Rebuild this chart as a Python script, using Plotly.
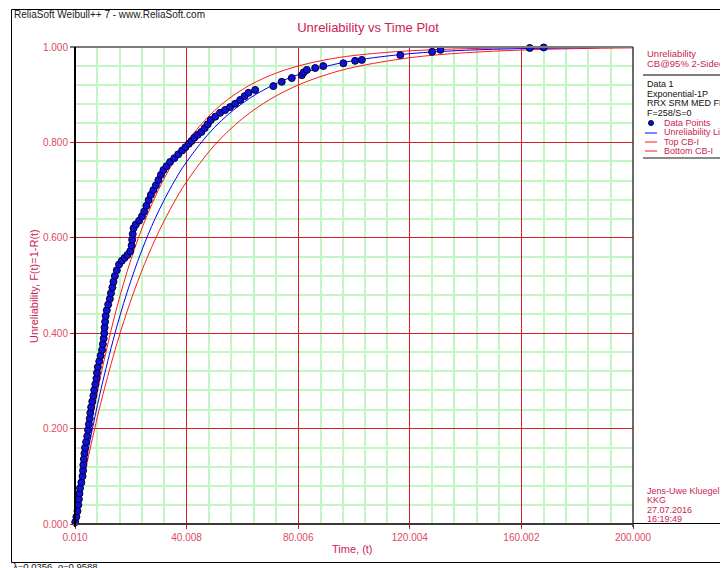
import plotly.graph_objects as go

# ---- data ----
pt_time = [0.1, 0.5, 0.9, 1.2, 1.4, 1.6, 1.8, 2.3, 2.7, 2.9, 3.0, 3.2, 3.4, 3.6, 4.0, 4.4,
           4.7, 5.0, 5.3, 5.5, 5.8, 6.2, 6.6, 6.9, 7.3, 7.7, 7.9, 8.2, 8.7, 9.2, 9.7, 10.0,
           10.3, 10.5, 10.6, 10.8, 11.0, 11.4, 11.9, 12.5, 12.9, 13.4, 13.8, 14.3, 15.0, 15.8,
           16.8, 17.8, 18.8, 19.8, 20.3, 20.5, 20.7, 21.0, 21.8, 23.0, 24.0, 24.8, 25.6, 26.4,
           27.2, 28.1, 29.0, 29.9, 30.8, 31.7, 32.8, 34.1, 35.6, 37.0, 38.4, 39.6, 40.8, 41.8,
           42.8, 44.0, 45.3, 46.5, 47.6, 48.7, 50.3, 52.0, 53.8, 55.6, 57.4, 59.2, 60.8, 62.2,
           64.6, 71.1, 74.1, 77.7, 81.3, 82.0, 83.1, 86.1, 89.0, 96.2, 100.4, 102.8, 116.6,
           128.0, 131.0, 163.0, 168.0]
pt_unrel = [0.004, 0.015, 0.027, 0.040, 0.052, 0.064, 0.075, 0.087, 0.100, 0.112, 0.124, 0.136,
            0.148, 0.160, 0.172, 0.184, 0.197, 0.209, 0.221, 0.233, 0.245, 0.257, 0.269, 0.281,
            0.293, 0.305, 0.317, 0.329, 0.341, 0.353, 0.365, 0.377, 0.389, 0.400, 0.412, 0.424,
            0.436, 0.448, 0.460, 0.472, 0.484, 0.496, 0.508, 0.520, 0.532, 0.544, 0.552, 0.558,
            0.564, 0.572, 0.584, 0.596, 0.608, 0.620, 0.628, 0.636, 0.645, 0.655, 0.667, 0.679,
            0.690, 0.700, 0.710, 0.721, 0.732, 0.742, 0.750, 0.759, 0.767, 0.775, 0.783, 0.790,
            0.797, 0.803, 0.810, 0.816, 0.822, 0.830, 0.838, 0.847, 0.854, 0.862, 0.868, 0.874,
            0.881, 0.889, 0.897, 0.904, 0.910, 0.918, 0.927, 0.935, 0.941, 0.947, 0.952, 0.956,
            0.960, 0.966, 0.971, 0.973, 0.983, 0.990, 0.994, 0.998, 0.999]

curve_time = [0, 2.5, 5, 7.5, 10, 15, 20, 25, 30, 35, 40, 50, 60, 70, 80, 90, 100, 120, 140,
              160, 180, 200]
unrel_line = [0, 0.0852, 0.1631, 0.2343, 0.2995, 0.4137, 0.5093, 0.5893, 0.6563, 0.7123,
              0.7592, 0.8314, 0.8819, 0.9173, 0.9420, 0.9594, 0.9716, 0.9860, 0.9932, 0.9966,
              0.9984, 0.9992]
top_cb = [0, 0.0959, 0.1825, 0.2609, 0.3317, 0.4537, 0.5534, 0.6349, 0.7015, 0.7560, 0.8005,
          0.8667, 0.9109, 0.9405, 0.9602, 0.9734, 0.9822, 0.9921, 0.9965, 0.9984, 0.9993, 0.9997]
bottom_cb = [0, 0.0760, 0.1461, 0.2110, 0.2709, 0.3775, 0.4684, 0.5462, 0.6125, 0.6691,
             0.7175, 0.7940, 0.8498, 0.8905, 0.9202, 0.9418, 0.9576, 0.9775, 0.9880, 0.9936,
             0.9966, 0.9982]

x_tickvals = [0.010, 40.008, 80.006, 120.004, 160.002, 200.000]
x_ticktext = ["0.010", "40.008", "80.006", "120.004", "160.002", "200.000"]
y_tickvals = [0.0, 0.2, 0.4, 0.6, 0.8, 1.0]
y_ticktext = ["0.000", "0.200", "0.400", "0.600", "0.800", "1.000"]

legend_header = ["Unreliability", "CB@95% 2-Sided [T]"]
legend_info = ["Data 1", "Exponential-1P", "RRX SRM MED FM", "F=258/S=0"]
legend_items = ["Data Points", "Unreliability Line", "Top CB-I", "Bottom CB-I"]
user_info = ["Jens-Uwe Kluegel", "KKG", "27.07.2016", "16:19:49"]

# ---- geometry (page has an 8px body margin, so the figure is offset by 8px) ----
OFF = 8
W, H = 728 - OFF, 568 - OFF
L, R, T, B = 75 - OFF, 633 - OFF, 47 - OFF, 524 - OFF
FONT = "Liberation Sans, Arial, sans-serif"
TXT = "#cc2452"
TICK = "#dd4a62"
RED = "#ff1a1a"
BLUE = "#0000ff"
GRID_MAJ = "#d42020"
GRID_MIN = "#c4f6c4"


def px(x):
    """reference page pixel x -> paper x"""
    return (x - OFF - L) / (R - L)


def py(y):
    """reference page pixel y -> paper y"""
    return (B - (y - OFF)) / (B - T)


x_minor = [0.01 + 7.9996 * k for k in range(26) if k % 5 != 0]
y_minor = [0.04 * k for k in range(26) if k % 5 != 0]

fig = go.Figure()
fig.add_trace(go.Scatter(x=curve_time, y=bottom_cb, mode="lines", line=dict(color=RED, width=1, shape="spline"),
                         showlegend=False, hoverinfo="skip"))
fig.add_trace(go.Scatter(x=curve_time, y=top_cb, mode="lines", line=dict(color=RED, width=1, shape="spline"),
                         showlegend=False, hoverinfo="skip"))
fig.add_trace(go.Scatter(x=curve_time, y=unrel_line, mode="lines", line=dict(color=BLUE, width=1, shape="spline"),
                         showlegend=False, hoverinfo="skip"))
fig.add_trace(go.Scatter(x=pt_time, y=pt_unrel, mode="markers",
                         marker=dict(size=7, color="#1010d8", line=dict(color="#00003a", width=1)),
                         showlegend=False, cliponaxis=False))

fig.update_xaxes(range=[0.01, 200], tickmode="array", tickvals=x_tickvals, ticktext=x_ticktext,
                 showgrid=True, gridcolor=GRID_MAJ, gridwidth=1, zeroline=False,
                 ticks="outside", ticklen=4, tickcolor=GRID_MAJ,
                 tickfont=dict(family=FONT, size=10, color=TICK),
                 minor=dict(tickmode="array", tickvals=x_minor, showgrid=True, gridcolor=GRID_MIN,
                            gridwidth=1.5, ticks=""),
                 showline=False)
fig.update_yaxes(range=[0, 1], tickmode="array", tickvals=y_tickvals, ticktext=y_ticktext,
                 showgrid=True, gridcolor=GRID_MAJ, gridwidth=1, zeroline=False,
                 ticks="outside", ticklen=4, tickcolor=GRID_MAJ,
                 tickfont=dict(family=FONT, size=10, color=TICK),
                 minor=dict(tickmode="array", tickvals=y_minor, showgrid=True, gridcolor=GRID_MIN,
                            gridwidth=1.5, ticks=""),
                 showline=False)

shapes = []


def hline(y, x0, x1, color="black", width=1):
    shapes.append(dict(type="line", xref="paper", yref="paper", x0=px(x0), x1=px(x1), y0=py(y), y1=py(y),
                       line=dict(color=color, width=width), layer="above"))


def vline(x, y0, y1, color="black", width=1):
    shapes.append(dict(type="line", xref="paper", yref="paper", x0=px(x), x1=px(x), y0=py(y0), y1=py(y1),
                       line=dict(color=color, width=width), layer="above"))


# outer window frame
vline(11.5, 9.5, 562.5)
hline(9.5, 11.5, 728)
hline(562.5, 11.5, 728)
# plot frame
hline(47, 70, 633, color="#7a7a7a", width=2)
hline(524, 75, 633, color="#3a3a3a", width=2)
vline(75, 47, 527, color="black", width=2)
vline(633, 47, 527, color="#3a3a3a", width=1.5)
# legend panel lines
hline(75, 643, 728, color="black", width=1)
hline(158, 643, 728, color="#8a8a8a", width=2)
hline(523.5, 633, 728, color="black", width=1)
# legend symbols
hline(133, 645, 657, color=BLUE, width=1)
hline(142, 645, 657, color=RED, width=1)
hline(151, 645, 657, color=RED, width=1)
shapes.append(dict(type="circle", xref="paper", yref="paper", x0=px(648.5), x1=px(653.5), y0=py(120.5),
                   y1=py(125.5), fillcolor="#1010d8", line=dict(color="#00003a", width=1), layer="above"))

annotations = []


def text(x, y, s, color=TXT, size=9, anchor="left", angle=0):
    annotations.append(dict(x=px(x), y=py(y), xref="paper", yref="paper", text=s, showarrow=False,
                            xanchor=anchor, yanchor="middle", textangle=angle, borderpad=0,
                            font=dict(family=FONT, size=size, color=color)))


text(13, 15, "ReliaSoft Weibull++ 7 - www.ReliaSoft.com", color="#202020", size=10)
text(352, 549, "Time, (t)", size=11, anchor="center")
text(34, 286, "Unreliability, F(t)=1-R(t)", size=11, anchor="center", angle=-90)
text(646, 53, legend_header[0], size=9.5)
text(646, 63, legend_header[1], size=9.5)
for i, s in enumerate(legend_info):
    text(646, 84 + i * 9.5, s, color="#101010", size=9)
for i, s in enumerate(legend_items):
    text(663, 123 + i * 9.4, s, size=9)
for i, s in enumerate(user_info):
    text(646, 490.5 + i * 9.5, s, size=9)
text(12, 566, "λ=0.0356, ρ=0.9588", color="#101010", size=9.5)

fig.update_layout(
    width=W, height=H,
    margin=dict(l=L, r=W - R, t=T, b=H - B, pad=0),
    paper_bgcolor="white", plot_bgcolor="white",
    title=dict(text="Unreliability vs Time Plot", x=px(354), xanchor="center", y=1 - (27 - OFF) / H,
               yanchor="middle", font=dict(family=FONT, size=13, color=TXT)),
    shapes=shapes, annotations=annotations, showlegend=False,
)

fig.write_html("out.html")
